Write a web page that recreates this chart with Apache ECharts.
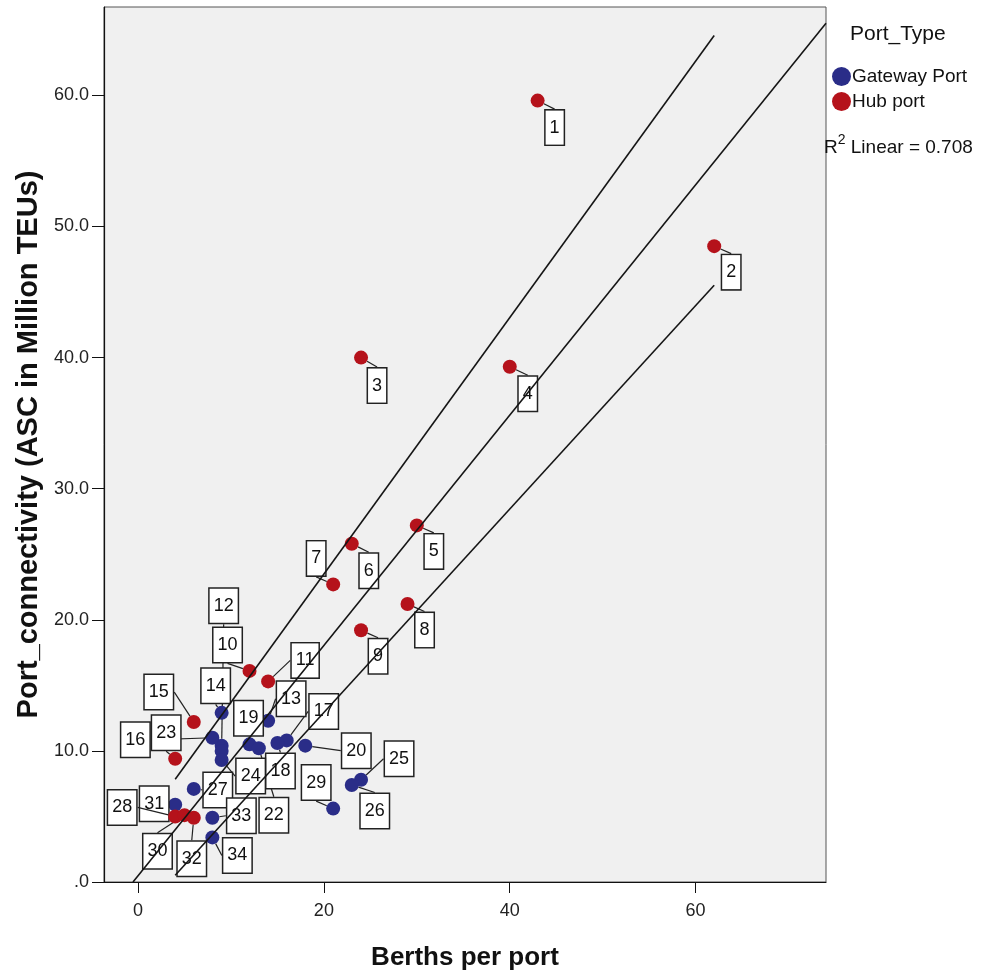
<!DOCTYPE html>
<html>
<head>
<meta charset="utf-8">
<script src="https://cdn.jsdelivr.net/npm/echarts@6/dist/echarts.min.js"></script>
<style>
html,body{margin:0;padding:0;background:#fff;}
#chart{width:982px;height:976px;}
</style>
</head>
<body>
<div id="chart"></div>
<script>
// ---- data ----
const xTicks = [0, 20, 40, 60];
const yTicks = [0, 10, 20, 30, 40, 50, 60];

const hubPorts  = ['1','2','3','4','5','6','7','8','9','10','11','15','23','28','30','32'];
const hubBerths = [43, 62, 24, 40, 30, 23, 21, 29, 24, 12, 14, 6, 4, 4, 5, 6];
const hubConn   = [59.6, 48.5, 40.0, 39.3, 27.2, 25.8, 22.7, 21.2, 19.2, 16.1, 15.3, 12.2, 9.4, 5.0, 5.1, 4.9];

const gwPorts  = ['12','13','14','16','17','18','19','20','21','22','24','25','26','27','29','31','33','34'];
const gwBerths = [9, 14, 9, 8, 16, 15, 12, 18, 9, 13, 9, 24, 23, 6, 21, 4, 8, 8];
const gwConn   = [10.4, 12.3, 12.9, 11.0, 10.8, 10.6, 10.5, 10.4, 10.0, 10.2, 9.3, 7.8, 7.4, 7.1, 5.6, 5.9, 4.9, 3.4];

// fit line (total) and the two outer lines, as endpoints [x, y]
const fitTotal = [[-0.54, 0], [74.03, 65.5]];
const fitUpper = [[4, 7.84], [62, 64.56]];
const fitLower = [[4, 0.51], [62, 45.52]];

const rSquared = '0.708';

// ---- label placement (px offsets of each case label from its point) ----
const labelOffsets = {
  '1':[17,27], '2':[17,26], '3':[16,28], '4':[18,27], '5':[17,26], '6':[17,27],
  '7':[-17,-26], '8':[17,26], '9':[17,26], '10':[-22,-26], '11':[37,-21],
  '12':[2,-140], '13':[23,-22], '14':[-6,-27], '15':[-35,-30], '16':[-77,2],
  '17':[37,-29], '18':[3,28], '19':[-1,-26], '20':[51,5], '22':[15,67],
  '23':[-9,-26], '24':[29,16], '25':[38,-21], '26':[23,26], '27':[24,1],
  '28':[-53,-9], '29':[-17,-26], '30':[-27,36], '31':[-21,-1], '32':[-2,41],
  '33':[29,-2], '34':[25,18]
};
const hiddenLabels = ['21'];

function buildPoints(ports, xs, ys) {
  return ports.map((p, i) => ({
    name: p,
    value: [xs[i], ys[i]],
    label: { show: hiddenLabels.indexOf(p) < 0 }
  }));
}

const FONT = '"Liberation Sans", Arial, sans-serif';
const labelStyle = {
  show: true,
  position: 'inside',
  formatter: p => p.name,
  fontFamily: FONT,
  fontSize: 18,
  color: '#111',
  backgroundColor: '#fff',
  borderColor: '#222',
  borderWidth: 1.5,
  padding: [8, 4, 7, 4],
  lineHeight: 19
};

const chart = echarts.init(document.getElementById('chart'), null, { renderer: 'canvas' });

const lineSeries = (name, pts) => ({
  name: name,
  type: 'line',
  data: pts,
  showSymbol: false,
  symbol: 'none',
  silent: true,
  z: 5,
  lineStyle: { color: '#151515', width: 1.6 },
  animation: false
});

chart.setOption({
  animation: false,
  backgroundColor: '#fff',
  grid: {
    left: 104, right: 156, top: 7, bottom: 92,
    show: true, backgroundColor: '#f0f0f0', borderColor: '#555', borderWidth: 1
  },
  xAxis: {
    type: 'value',
    min: -3.66, max: 74.03,
    name: 'Berths per port',
    nameLocation: 'middle',
    nameGap: 63,
    nameTextStyle: { fontFamily: FONT, fontWeight: 'bold', fontSize: 26, color: '#111' },
    splitLine: { show: false },
    axisLine: { show: true, onZero: false, lineStyle: { color: '#111', width: 1.2 } },
    axisTick: { show: true, length: 11, customValues: xTicks, lineStyle: { color: '#111' } },
    axisLabel: { customValues: xTicks, margin: 20, fontFamily: FONT, fontSize: 18, color: '#222' }
  },
  yAxis: {
    type: 'value',
    min: 0, max: 66.74,
    name: 'Port_connectivity (ASC in Million TEUs)',
    nameLocation: 'middle',
    nameGap: 60,
    nameTextStyle: { fontFamily: FONT, fontWeight: 'bold', fontSize: 29, color: '#111' },
    splitLine: { show: false },
    axisLine: { show: true, onZero: false, lineStyle: { color: '#111', width: 1.2 } },
    axisTick: { show: true, length: 12, customValues: yTicks, lineStyle: { color: '#111' } },
    axisLabel: {
      customValues: yTicks, margin: 15, fontFamily: FONT, fontSize: 18, color: '#222',
      formatter: v => (v === 0 ? '.0' : v.toFixed(1))
    }
  },
  legend: {
    data: ['Gateway Port', 'Hub port'],
    orient: 'vertical',
    left: 827, top: 62,
    icon: 'circle',
    itemWidth: 19, itemHeight: 19, itemGap: 6,
    textStyle: { fontFamily: FONT, fontSize: 19, color: '#111', padding: [0, 0, 0, -4] },
    selectedMode: false
  },
  graphic: [
    { type: 'text', left: 850, top: 24,
      style: { text: 'Port_Type', fontFamily: FONT, fontSize: 21, fill: '#111' } },
    { type: 'text', left: 824, top: 133,
      style: {
        text: '{r|R}{s|2}{r| Linear = ' + rSquared + '}',
        rich: {
          r: { fontFamily: FONT, fontSize: 19, fill: '#111', verticalAlign: 'bottom', lineHeight: 24 },
          s: { fontFamily: FONT, fontSize: 14, fill: '#111', verticalAlign: 'top', lineHeight: 17 }
        }
      } }
  ],
  series: [
    {
      name: 'Gateway Port',
      type: 'scatter',
      symbol: 'circle',
      symbolSize: 14,
      z: 2,
      itemStyle: { color: '#2a2d88', opacity: 1 },
      data: buildPoints(gwPorts, gwBerths, gwConn),
      label: labelStyle,
      labelLine: { show: true, lineStyle: { color: '#222', width: 1.2 } },
      labelLayout: p => { const o = labelOffsets[p.text] || [0, 0]; return { dx: o[0], dy: o[1] }; }
    },
    {
      name: 'Hub port',
      type: 'scatter',
      symbol: 'circle',
      symbolSize: 14,
      z: 3,
      itemStyle: { color: '#b5121b', opacity: 1 },
      data: buildPoints(hubPorts, hubBerths, hubConn),
      label: labelStyle,
      labelLine: { show: true, lineStyle: { color: '#222', width: 1.2 } },
      labelLayout: p => { const o = labelOffsets[p.text] || [0, 0]; return { dx: o[0], dy: o[1] }; }
    },
    lineSeries('Linear fit', fitTotal),
    lineSeries('Upper', fitUpper),
    lineSeries('Lower', fitLower)
  ]
});
</script>
</body>
</html>
